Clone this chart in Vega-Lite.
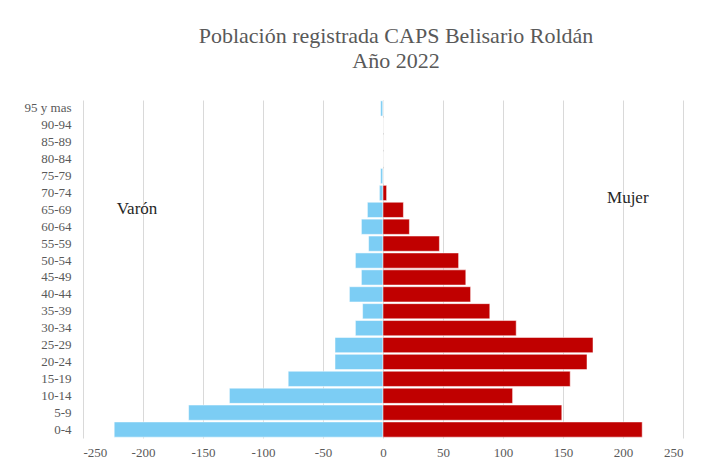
{
  "$schema": "https://vega.github.io/schema/vega-lite/v6.json",
  "width": 600,
  "height": 338,
  "autosize": {"type": "none"},
  "padding": {"left": 83, "top": 100, "right": 26, "bottom": 32},
  "background": "white",
  "title": {
    "text": ["Población registrada CAPS Belisario Roldán", "Año 2022"],
    "font": "Liberation Serif",
    "fontSize": 22,
    "fontWeight": "normal",
    "color": "#595959",
    "lineHeight": 25,
    "anchor": "middle",
    "dx": 13,
    "offset": 27
  },
  "config": {
    "view": {"stroke": null},
    "font": "Liberation Serif"
  },
  "datasets": {
    "pop": [
      {"age": "0-4", "sex": "Varón", "value": -224},
      {"age": "5-9", "sex": "Varón", "value": -162},
      {"age": "10-14", "sex": "Varón", "value": -128},
      {"age": "15-19", "sex": "Varón", "value": -79},
      {"age": "20-24", "sex": "Varón", "value": -40},
      {"age": "25-29", "sex": "Varón", "value": -40},
      {"age": "30-34", "sex": "Varón", "value": -23},
      {"age": "35-39", "sex": "Varón", "value": -17},
      {"age": "40-44", "sex": "Varón", "value": -28},
      {"age": "45-49", "sex": "Varón", "value": -18},
      {"age": "50-54", "sex": "Varón", "value": -23},
      {"age": "55-59", "sex": "Varón", "value": -12},
      {"age": "60-64", "sex": "Varón", "value": -18},
      {"age": "65-69", "sex": "Varón", "value": -13},
      {"age": "70-74", "sex": "Varón", "value": -3},
      {"age": "75-79", "sex": "Varón", "value": -2},
      {"age": "80-84", "sex": "Varón", "value": 0},
      {"age": "85-89", "sex": "Varón", "value": 0},
      {"age": "90-94", "sex": "Varón", "value": 0},
      {"age": "95 y mas", "sex": "Varón", "value": -2},
      {"age": "0-4", "sex": "Mujer", "value": 216},
      {"age": "5-9", "sex": "Mujer", "value": 149},
      {"age": "10-14", "sex": "Mujer", "value": 108},
      {"age": "15-19", "sex": "Mujer", "value": 156},
      {"age": "20-24", "sex": "Mujer", "value": 170},
      {"age": "25-29", "sex": "Mujer", "value": 175},
      {"age": "30-34", "sex": "Mujer", "value": 111},
      {"age": "35-39", "sex": "Mujer", "value": 89},
      {"age": "40-44", "sex": "Mujer", "value": 73},
      {"age": "45-49", "sex": "Mujer", "value": 69},
      {"age": "50-54", "sex": "Mujer", "value": 63},
      {"age": "55-59", "sex": "Mujer", "value": 47},
      {"age": "60-64", "sex": "Mujer", "value": 22},
      {"age": "65-69", "sex": "Mujer", "value": 17},
      {"age": "70-74", "sex": "Mujer", "value": 3},
      {"age": "75-79", "sex": "Mujer", "value": 0},
      {"age": "80-84", "sex": "Mujer", "value": 0},
      {"age": "85-89", "sex": "Mujer", "value": 0},
      {"age": "90-94", "sex": "Mujer", "value": 0},
      {"age": "95 y mas", "sex": "Mujer", "value": 0}
    ],
    "varon": [
      {"age": "65-69", "value": -205, "label": "Varón"}
    ],
    "mujer": [
      {"age": "70-74", "value": 204, "label": "Mujer"}
    ]
  },
  "layer": [
    {
      "data": {"name": "pop"},
      "mark": {"type": "bar", "stroke": "white", "strokeWidth": 0.5},
      "encoding": {
        "y": {
          "field": "age",
          "type": "ordinal",
          "scale": {
            "domain": ["95 y mas", "90-94", "85-89", "80-84", "75-79", "70-74", "65-69", "60-64", "55-59", "50-54", "45-49", "40-44", "35-39", "30-34", "25-29", "20-24", "15-19", "10-14", "5-9", "0-4"],
            "paddingInner": 0.1,
            "paddingOuter": 0.05
          },
          "axis": {
            "title": null,
            "domain": false,
            "ticks": false,
            "labelFont": "Liberation Serif",
            "labelFontSize": 13,
            "labelColor": "#595959",
            "labelPadding": 12
          }
        },
        "x": {
          "field": "value",
          "type": "quantitative",
          "scale": {"domain": [-250, 250], "nice": false},
          "axis": {
            "title": null,
            "values": [-250, -200, -150, -100, -50, 0, 50, 100, 150, 200, 250],
            "labelExpr": "toString(datum.value)",
            "domain": false,
            "ticks": false,
            "grid": true,
            "gridColor": "#d9d9d9",
            "gridWidth": 1,
            "labelFont": "Liberation Serif",
            "labelFontSize": 13,
            "labelColor": "#595959",
            "labelPadding": 8
          }
        },
        "color": {
          "field": "sex",
          "type": "nominal",
          "scale": {"domain": ["Varón", "Mujer"], "range": ["#7ccdf4", "#c00000"]},
          "legend": null
        }
      }
    },
    {
      "data": {"name": "varon"},
      "mark": {"type": "text", "font": "Liberation Serif", "fontSize": 17, "color": "#262626", "dy": -1},
      "encoding": {
        "y": {"field": "age", "type": "ordinal"},
        "x": {"field": "value", "type": "quantitative"},
        "text": {"field": "label"}
      }
    },
    {
      "data": {"name": "mujer"},
      "mark": {"type": "text", "font": "Liberation Serif", "fontSize": 17, "color": "#262626", "dy": 5},
      "encoding": {
        "y": {"field": "age", "type": "ordinal"},
        "x": {"field": "value", "type": "quantitative"},
        "text": {"field": "label"}
      }
    }
  ]
}
